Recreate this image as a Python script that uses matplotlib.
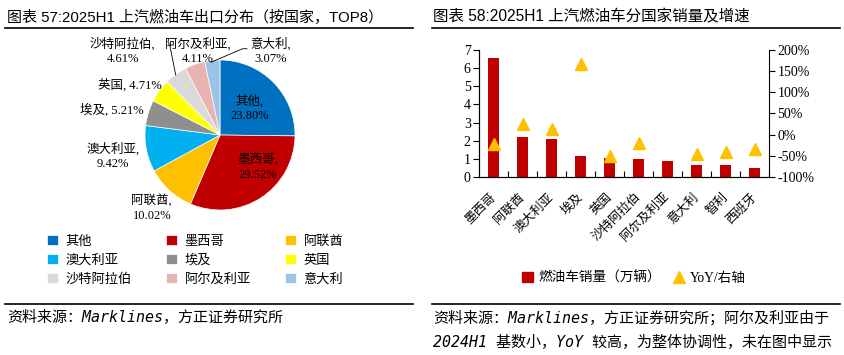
import matplotlib
matplotlib.use("Agg")
from matplotlib import pyplot as plt
from matplotlib.lines import Line2D
from matplotlib.patches import Rectangle

# left: export share by country (%)
pie_names = ["其他", "墨西哥", "阿联酋", "澳大利亚", "埃及", "英国", "沙特阿拉伯", "阿尔及利亚", "意大利"]
pie_shares = [23.80, 29.52, 10.02, 9.42, 5.21, 4.71, 4.61, 4.11, 3.07]
pie_colors = ["#0070C0", "#C00000", "#FFC000", "#00B0F0", "#8F8F8F",
              "#FFFF00", "#D9D9D9", "#E8B4AF", "#9DC3E6"]

# right: sales (10k units) and YoY (%)
countries = ["墨西哥", "阿联酋", "澳大利亚", "埃及", "英国", "沙特阿拉伯", "阿尔及利亚", "意大利", "智利", "西班牙"]
sales = [6.54, 2.19, 2.09, 1.16, 1.03, 0.99, 0.87, 0.65, 0.65, 0.48]
yoy = [-23, 26, 14, 167, -50, -20, float("nan"), -45, -41, -34]

CJK = "Noto Sans CJK SC"
serif_cjk = ["Liberation Serif", CJK]
sans_cjk = ["Liberation Sans", CJK]
mono_cjk = ["DejaVu Sans Mono", CJK]

W, H = 845, 355
fig = plt.figure(figsize=(W / 100, H / 100), dpi=100)


def fx(px):
    return px / W


def fy(py):
    return 1 - py / H


# ---------- frame lines and titles ----------
for x0, x1 in [(5, 413), (432, 840)]:
    for yy in (28, 304):
        fig.add_artist(Line2D([fx(x0), fx(x1)], [fy(yy), fy(yy)], color="black", lw=1.2))

fig.text(fx(7), fy(17), "图表 57:2025H1 上汽燃油车出口分布（按国家，TOP8）",
         family=sans_cjk, fontsize=10.8, va="center", ha="left")
fig.text(fx(433), fy(17), "图表 58:2025H1 上汽燃油车分国家销量及增速",
         family=sans_cjk, fontsize=11.2, va="center", ha="left")

src_kw = dict(family=mono_cjk, style="oblique", fontsize=10.8, va="center", ha="left")
fig.text(fx(7), fy(318), "资料来源：Marklines，方正证券研究所", **src_kw)
fig.text(fx(433), fy(318), "资料来源：Marklines，方正证券研究所；阿尔及利亚由于", **src_kw)
fig.text(fx(433), fy(342), "2024H1 基数小，YoY 较高，为整体协调性，未在图中显示", **src_kw)

# ---------- pie ----------
cx, cy, r = 220, 135, 75
ax1 = fig.add_axes([fx(cx - 2 * r), fy(cy + 2 * r), 4 * r / W, 4 * r / H])
wedges, _ = ax1.pie(pie_shares, colors=pie_colors, startangle=90, counterclock=False,
                    radius=1, wedgeprops=dict(edgecolor="white", linewidth=0.5))
ax1.set_xlim(-2, 2)
ax1.set_ylim(-2, 2)
ax1.axis("off")

label_pos = [(0.40, 0.36), (0.50, -0.43), (-0.91, -0.97), (-1.43, -0.28), (-1.44, 0.33),
             (-1.20, 0.67), (-1.30, 1.12), (-0.30, 1.12), (0.67, 1.12)]
one_line = {"埃及", "英国"}
for name, share, (lx, ly) in zip(pie_names, pie_shares, label_pos):
    sep = ", " if name in one_line else ",\n"
    ax1.text(lx, ly, f"{name}{sep}{share:.2f}%", family=serif_cjk, fontsize=9,
             ha="center", va="center", linespacing=1.3)
# leader lines
ax1.plot([-0.67, -0.59], [1.20, 0.80], color="black", lw=0.6)
ax1.plot([0.36, 0.30, -0.12], [1.15, 1.15, 0.97], color="black", lw=0.6)

# legend fills row by row in the reference
order = [0, 3, 6, 1, 4, 7, 2, 5, 8]
fig.legend([wedges[i] for i in order], [pie_names[i] for i in order],
           loc="upper left", bbox_to_anchor=(fx(47), fy(235)),
           ncol=3, frameon=False, prop={"family": CJK, "size": 9.5},
           handlelength=0.8, handleheight=0.8, handletextpad=0.6,
           columnspacing=2.6, labelspacing=0.45, borderpad=0, borderaxespad=0)

# ---------- bars + yoy ----------
ax2 = fig.add_axes([fx(479), fy(177), 290 / W, 127 / H])
xs = list(range(len(countries)))
ax2.bar(xs, sales, width=0.4, color="#C00000")
ax2.set_xlim(-0.5, len(countries) - 0.5)
ax2.set_ylim(0, 7)
ax2.set_yticks(range(0, 8))
ax2.set_xticks(xs)
ax2.set_xticklabels(countries, rotation=45, ha="right", va="center",
                    rotation_mode="anchor", family=CJK, fontsize=9)
ax2.set_xticks([x + 0.5 for x in xs], minor=True)
ax2.tick_params(axis="x", which="major", length=0, pad=13)
ax2.tick_params(axis="x", which="minor", direction="in", length=4, width=0.8)
ax2.tick_params(axis="y", direction="out", length=4, width=0.8, pad=2)
for lab in ax2.get_yticklabels():
    lab.set_family("Liberation Serif")
    lab.set_fontsize(10)
ax2.spines["top"].set_visible(False)
ax2.spines["right"].set_visible(False)

ax3 = ax2.twinx()
ax3.plot(xs, yoy, linestyle="none", marker="^", markersize=9, color="#FFC000")
ax3.set_ylim(-100, 200)
ax3.set_yticks(range(-100, 201, 50))
ax3.set_yticklabels([f"{v}%" for v in range(-100, 201, 50)], family="Liberation Serif", fontsize=10)
ax3.tick_params(axis="y", direction="out", length=4, width=0.8, pad=2)
ax3.spines["top"].set_visible(False)

handles = [Rectangle((0, 0), 1, 1, color="#C00000"),
           Line2D([], [], linestyle="none", marker="^", markersize=8, color="#FFC000")]
fig.legend(handles, ["燃油车销量（万辆）", "YoY/右轴"], loc="center", bbox_to_anchor=(fx(634), fy(278)),
           ncol=2, frameon=False, prop={"family": serif_cjk, "size": 9.8},
           handlelength=0.8, handleheight=0.8, handletextpad=0.4, columnspacing=0.9,
           borderpad=0, borderaxespad=0)

fig.savefig("out.png", dpi=100)
